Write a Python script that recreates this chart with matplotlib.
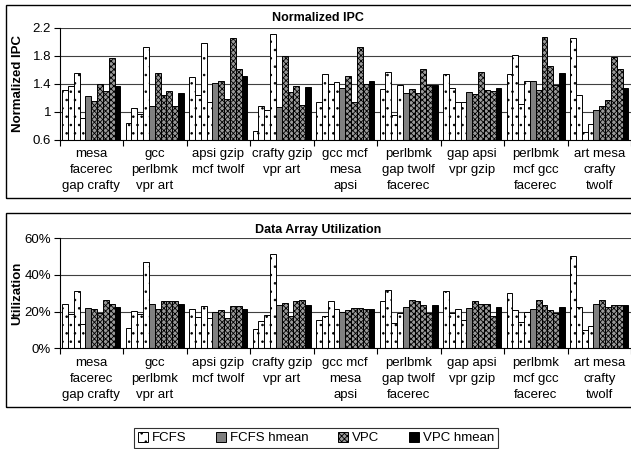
import numpy as np
import matplotlib
matplotlib.use("Agg")
import matplotlib.pyplot as plt
from matplotlib.patches import Rectangle, Patch

plt.rcParams['font.family'] = ['Liberation Sans', 'DejaVu Sans']
plt.rcParams['hatch.linewidth'] = 0.6

workloads = ["mesa\nfacerec\ngap crafty", "gcc\nperlbmk\nvpr art", "apsi gzip\nmcf twolf",
             "crafty gzip\nvpr art", "gcc mcf\nmesa\napsi", "perlbmk\ngap twolf\nfacerec",
             "gap apsi\nvpr gzip", "perlbmk\nmcf gcc\nfacerec", "art mesa\ncrafty\ntwolf"]

# normalized IPC, 4 apps per workload
ipc_fcfs = [[1.31, 1.37, 1.56, 0.91], [0.85, 1.06, 0.97, 1.93], [1.50, 1.25, 1.98, 1.14],
            [0.73, 1.09, 1.03, 2.11], [1.14, 1.54, 1.40, 1.43], [1.33, 1.57, 0.96, 1.39],
            [1.55, 1.34, 1.15, 1.15], [1.55, 1.82, 1.11, 1.45], [2.06, 1.24, 0.72, 0.83]]
ipc_fcfs_hmean = [1.23, 1.09, 1.42, 1.07, 1.35, 1.27, 1.28, 1.44, 1.03]
ipc_vpc = [[1.16, 1.40, 1.30, 1.77], [1.56, 1.25, 1.30, 1.08], [1.44, 1.19, 2.06, 1.62],
           [1.80, 1.29, 1.37, 1.10], [1.52, 1.15, 1.93, 1.40], [1.33, 1.27, 1.62, 1.38],
           [1.26, 1.57, 1.31, 1.30], [1.32, 2.07, 1.66, 1.39], [1.08, 1.17, 1.78, 1.62]]
ipc_vpc_hmean = [1.37, 1.27, 1.51, 1.36, 1.45, 1.38, 1.34, 1.56, 1.34]

# data array utilization (%)
util_fcfs = [[24.3, 18.5, 31.5, 13.1], [11.3, 20.3, 18.5, 47.2], [21.6, 17.1, 23.0, 16.7],
             [10.3, 14.9, 18.4, 51.3], [15.3, 17.5, 25.6, 21.2], [25.7, 32.0, 14.0, 19.1],
             [31.5, 19.4, 21.2, 15.7], [30.2, 20.7, 14.4, 19.8], [50.4, 22.7, 9.9, 12.1]]
util_fcfs_hmean = [22.1, 24.3, 19.8, 23.8, 19.8, 22.7, 22.1, 21.2, 23.9]
util_vpc = [[21.6, 19.1, 26.1, 24.3], [21.2, 25.9, 25.9, 25.9], [21.1, 16.7, 23.2, 23.2],
            [24.8, 17.8, 25.9, 26.5], [20.7, 22.1, 22.0, 21.2], [26.1, 25.6, 23.4, 19.4],
            [25.6, 23.9, 24.3, 17.6], [26.1, 23.8, 20.7, 19.3], [26.1, 22.5, 23.8, 23.4]]
util_vpc_hmean = [22.7, 24.3, 21.2, 23.8, 21.2, 23.4, 22.7, 22.7, 23.8]

W, H = 631, 449
fig = plt.figure(figsize=(W / 100, H / 100), dpi=100)

styles = {
    'fcfs': dict(facecolor='white', edgecolor='black', hatch='..'),
    'fcfs_h': dict(facecolor='#808080', edgecolor='black'),
    'vpc': dict(facecolor='#9a9a9a', edgecolor='black', hatch='xxxxxx'),
    'vpc_h': dict(facecolor='black', edgecolor='black'),
}

bw = 0.0918
off = (1 - 10 * bw) / 2


def draw_panel(ax, fcfs, fcfs_h, vpc, vpc_h, ylim, yticks, ylabels):
    for g in range(len(workloads)):
        base = g + off
        for i, v in enumerate(fcfs[g]):
            ax.bar(base + (i + 0.5) * bw, v - ylim[0], bw, bottom=ylim[0], lw=0.7, **styles['fcfs'])
        ax.bar(base + 4.5 * bw, fcfs_h[g] - ylim[0], bw, bottom=ylim[0], lw=0.7, **styles['fcfs_h'])
        for i, v in enumerate(vpc[g]):
            ax.bar(base + (i + 5.5) * bw, v - ylim[0], bw, bottom=ylim[0], lw=0.7, **styles['vpc'])
        ax.bar(base + 9.5 * bw, vpc_h[g] - ylim[0], bw, bottom=ylim[0], lw=0.7, **styles['vpc_h'])
    ax.set_xlim(0, 9)
    ax.set_ylim(*ylim)
    ax.set_yticks(yticks)
    ax.set_yticklabels(ylabels, fontsize=9.5)
    for t in yticks[1:]:
        ax.axhline(t, color='#404040', lw=0.8, zorder=0)
    ax.set_xticks(np.arange(9) + 0.5)
    ax.set_xticklabels(workloads, fontsize=9.5, linespacing=1.45)
    ax.set_xticks(np.arange(10), minor=True)
    ax.tick_params(axis='x', which='major', length=0, pad=6)
    ax.tick_params(axis='x', which='minor', length=4, width=0.8, direction='out')
    ax.tick_params(axis='y', length=4, width=0.8, pad=2)
    for s in ['top', 'right']:
        ax.spines[s].set_visible(False)
    ax.spines['left'].set_linewidth(0.8)
    ax.spines['bottom'].set_linewidth(0.8)
    ax.set_facecolor('none')


ax1 = fig.add_axes([59.5 / W, 1 - 140 / H, 1 - 59.5 / W, 112 / H])
draw_panel(ax1, ipc_fcfs, ipc_fcfs_hmean, ipc_vpc, ipc_vpc_hmean,
           (0.6, 2.2), [0.6, 1.0, 1.4, 1.8, 2.2], ['0.6', '1', '1.4', '1.8', '2.2'])

ax2 = fig.add_axes([59.5 / W, 1 - 348.3 / H, 1 - 59.5 / W, 110 / H])
draw_panel(ax2, util_fcfs, util_fcfs_hmean, util_vpc, util_vpc_hmean,
           (0, 60), [0, 20, 40, 60], ['0%', '20%', '40%', '60%'])

fig.text(318 / W, 1 - 18 / H, "Normalized IPC", ha='center', va='center', fontsize=9, fontweight='bold')
fig.text(318 / W, 1 - 230 / H, "Data Array Utilization", ha='center', va='center', fontsize=9, fontweight='bold')
fig.text(18 / W, 1 - 84 / H, "Normalized IPC", ha='center', va='center', rotation=90, fontsize=9.5, fontweight='bold')
fig.text(17 / W, 1 - 293 / H, "Utilization", ha='center', va='center', rotation=90, fontsize=9.5, fontweight='bold')

# panel frames
fig.patches.append(Rectangle((6 / W, 1 - 198 / H), 1.0, 193 / H, transform=fig.transFigure,
                             fill=False, edgecolor='black', lw=1))
fig.patches.append(Rectangle((6 / W, 1 - 407 / H), 1.0, 194 / H, transform=fig.transFigure,
                             fill=False, edgecolor='black', lw=1))

handles = [Patch(label='FCFS', linewidth=0.7, **styles['fcfs']),
           Patch(label='FCFS hmean', linewidth=0.7, **styles['fcfs_h']),
           Patch(label='VPC', linewidth=0.7, **styles['vpc']),
           Patch(label='VPC hmean', linewidth=0.7, **styles['vpc_h'])]
leg = fig.legend(handles=handles, loc='center', bbox_to_anchor=(316 / W, 1 - 438 / H), ncol=4,
                 fontsize=9.5, frameon=True, fancybox=False, edgecolor='black',
                 handlelength=0.8, handleheight=0.8, handletextpad=0.3, columnspacing=2.2,
                 borderpad=0.25)
leg.get_frame().set_linewidth(0.8)

fig.savefig("out.png", dpi=100)
